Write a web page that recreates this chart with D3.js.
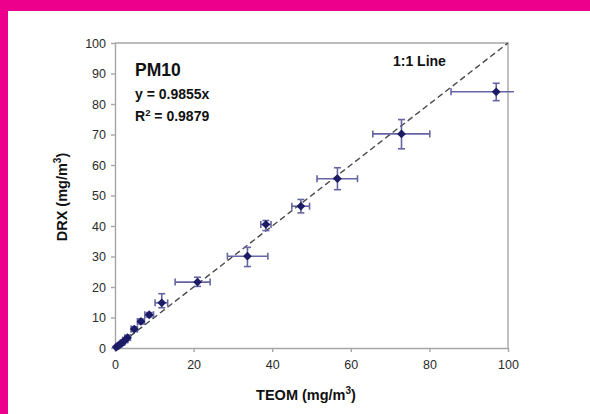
<!DOCTYPE html>
<html>
<head>
<meta charset="utf-8">
<script src="https://cdn.jsdelivr.net/npm/d3@7"></script>
<style>
  body { margin: 0; background: #fff; }
  text { font-family: "Liberation Sans", Arial, sans-serif; }
</style>
</head>
<body>
<div id="chart"></div>
<script>
// TEOM vs DRX, PM10 (mg/m3)
const teom   = [0.3, 0.8, 1.3, 1.9, 2.6, 3.2, 4.9, 6.6, 8.7, 11.9, 21.0, 33.7, 38.4, 47.3, 56.6, 72.9, 97.0]
const drx    = [0.3, 0.7, 1.2, 1.8, 2.6, 3.4, 6.2, 8.7, 10.9, 14.8, 21.6, 30.1, 40.5, 46.5, 55.5, 70.2, 84.0]
const teomLo = [0.1, 0.5, 0.9, 1.4, 2.0, 2.5, 4.1, 5.7, 7.6, 10.2, 15.3, 28.6, 37.1, 45.0, 51.4, 65.6, 85.5]
const teomHi = [0.5, 1.1, 1.7, 2.4, 3.2, 3.9, 5.7, 7.5, 9.8, 13.4, 24.2, 38.9, 39.7, 49.5, 61.7, 80.1, 101.5]
const drxLo  = [0.1, 0.4, 0.8, 1.3, 2.0, 2.7, 5.4, 7.9, 10.2, 13.2, 20.2, 26.7, 38.5, 44.3, 51.9, 65.3, 81.1]
const drxHi  = [0.5, 1.0, 1.6, 2.3, 3.2, 4.1, 7.0, 9.5, 11.6, 17.8, 23.2, 33.0, 41.8, 48.7, 59.1, 74.9, 86.8]
const xTicks = [0, 20, 40, 60, 80, 100]
const yTicks = [0, 10, 20, 30, 40, 50, 60, 70, 80, 90, 100]
const oneToOne = [[0, 0], [100, 100]]

const width = 590, height = 414
const margin = {left: 115, right: 82, top: 43, bottom: 66}

const data = teom.map((d, i) => ({x: d, y: drx[i], x0: teomLo[i], x1: teomHi[i], y0: drxLo[i], y1: drxHi[i]}))

const x = d3.scaleLinear().domain([0, 100]).range([margin.left, width - margin.right])
const y = d3.scaleLinear().domain([0, 100]).range([height - margin.bottom, margin.top])

const svg = d3.select("#chart").append("svg")
    .attr("width", width)
    .attr("height", height)

// magenta frame
svg.append("rect").attr("x", 0).attr("y", 0).attr("width", width).attr("height", 11).attr("fill", "#ec008c")
svg.append("rect").attr("x", 0).attr("y", 0).attr("width", 8).attr("height", height).attr("fill", "#ec008c")

const axisColor = "#a6a6a6"

// plot box (top and right)
svg.append("path")
    .attr("d", `M${x(0)},${y(100)}H${x(100)}V${y(0)}`)
    .attr("fill", "none").attr("stroke", axisColor).attr("stroke-width", 1.4)

const xAxis = g => g.attr("transform", `translate(0,${y(0)})`)
    .call(d3.axisBottom(x).tickValues(xTicks).tickSize(4).tickSizeOuter(0).tickPadding(8))
const yAxis = g => g.attr("transform", `translate(${x(0)},0)`)
    .call(d3.axisLeft(y).tickValues(yTicks).tickSize(4).tickSizeOuter(0).tickPadding(5))

for (const ax of [xAxis, yAxis]) {
    const g = svg.append("g").call(ax)
    g.select(".domain").attr("stroke", axisColor).attr("stroke-width", 1.4)
    g.selectAll(".tick line").attr("stroke", axisColor).attr("stroke-width", 1.4)
    g.selectAll(".tick text").attr("fill", "#2b2b2b").style("font-size", "12.5px")
        .style("font-family", "'Liberation Sans', Arial, sans-serif")
}

// 1:1 line
const line = d3.line().x(d => x(d[0])).y(d => y(d[1]))
svg.append("path")
    .datum(oneToOne)
    .attr("d", line)
    .attr("fill", "none")
    .attr("stroke", "#4a4a4a")
    .attr("stroke-width", 1.4)
    .attr("stroke-dasharray", "6,3.5")

// error bars
const errColor = "#6565a3"
const cap = 3.5
const eb = svg.append("g").attr("stroke", errColor).attr("stroke-width", 1.6).attr("fill", "none")
data.forEach(d => {
    eb.append("line").attr("x1", x(d.x0)).attr("x2", x(d.x1)).attr("y1", y(d.y)).attr("y2", y(d.y))
    eb.append("line").attr("x1", x(d.x)).attr("x2", x(d.x)).attr("y1", y(d.y0)).attr("y2", y(d.y1))
    for (const v of [d.x0, d.x1]) {
        if (v <= 100) eb.append("line").attr("x1", x(v)).attr("x2", x(v)).attr("y1", y(d.y) - cap).attr("y2", y(d.y) + cap)
    }
    for (const v of [d.y0, d.y1]) {
        eb.append("line").attr("x1", x(d.x) - cap).attr("x2", x(d.x) + cap).attr("y1", y(v)).attr("y2", y(v))
    }
})

// diamond markers
svg.append("g").selectAll("path")
    .data(data)
    .join("path")
    .attr("transform", d => `translate(${x(d.x)},${y(d.y)}) rotate(45)`)
    .attr("d", "M-3.1,-3.1H3.1V3.1H-3.1Z")
    .attr("fill", "#1c1c66")

// labels
svg.append("text").attr("x", 135).attr("y", 76).attr("font-size", 17.5).attr("font-weight", "bold").attr("fill", "#111").text("PM10")
svg.append("text").attr("x", 135).attr("y", 99).attr("font-size", 14).attr("font-weight", "bold").attr("fill", "#111").text("y = 0.9855x")
const r2 = svg.append("text").attr("x", 135).attr("y", 121).attr("font-size", 14).attr("font-weight", "bold").attr("fill", "#111")
r2.append("tspan").text("R")
r2.append("tspan").attr("dy", -5.5).attr("font-size", 9.5).text("2")
r2.append("tspan").attr("dy", 5.5).text(" = 0.9879")
svg.append("text").attr("x", 393).attr("y", 66).attr("font-size", 14).attr("font-weight", "bold").attr("fill", "#111").text("1:1 Line")

const xt = svg.append("text").attr("x", 306).attr("y", 400).attr("text-anchor", "middle")
    .attr("font-size", 14.5).attr("font-weight", "bold").attr("fill", "#111")
xt.append("tspan").text("TEOM (mg/m")
xt.append("tspan").attr("dy", -6).attr("font-size", 10).text("3")
xt.append("tspan").attr("dy", 6).text(")")

const yt = svg.append("text").attr("transform", "translate(67,197) rotate(-90)").attr("text-anchor", "middle")
    .attr("font-size", 14.5).attr("font-weight", "bold").attr("fill", "#111")
yt.append("tspan").text("DRX (mg/m")
yt.append("tspan").attr("dy", -6).attr("font-size", 10).text("3")
yt.append("tspan").attr("dy", 6).text(")")
</script>
</body>
</html>
